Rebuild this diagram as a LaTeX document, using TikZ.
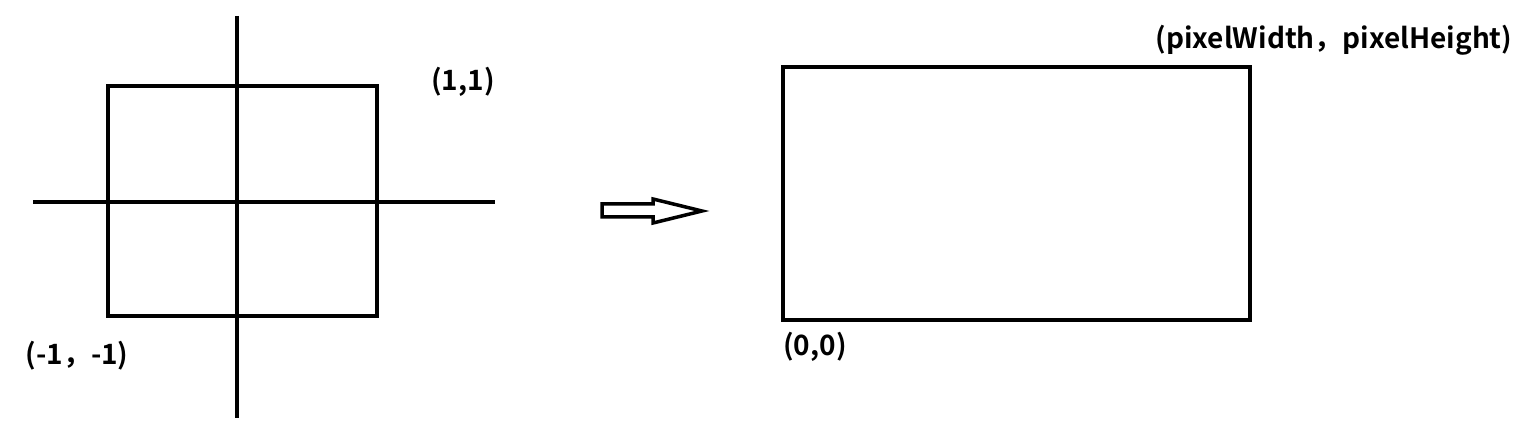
\documentclass[tikz,border=0pt]{standalone}
\usepackage{fontspec}
\setmainfont{Noto Sans CJK SC}[BoldFont={Noto Sans CJK SC Bold}]
\begin{document}
\begin{tikzpicture}[x=1pt,y=-1pt,
  thick line/.style={line width=4pt,line cap=rect},
  lbl/.style={font=\bfseries\fontsize{28}{32}\selectfont,inner sep=0pt}]
\useasboundingbox (0,0) rectangle (1523,443);
% left square and axes
\draw[thick line] (108,86) rectangle (377,316);
\draw[line width=4pt] (237,16) -- (237,418);
\draw[line width=4pt] (33,202) -- (495,202);
% hollow arrow
\draw[line width=3.5pt,line join=miter]
  (602,204) -- (653,204) -- (653,199) -- (702,211) -- (653,223) -- (653,217) -- (602,217) -- cycle;
% right rectangle
\draw[thick line] (783,67) rectangle (1250,320);
% labels
\node[lbl] (p11) at (463,82) {(1,1)};
\node[lbl] (pm11) at (77,356) {(-1，-1)};
\node[lbl] (pwh) at (1334,40) {(pixelWidth，pixelHeight)};
\node[lbl] (p00) at (815,347) {(0,0)};
\end{tikzpicture}
\end{document}
